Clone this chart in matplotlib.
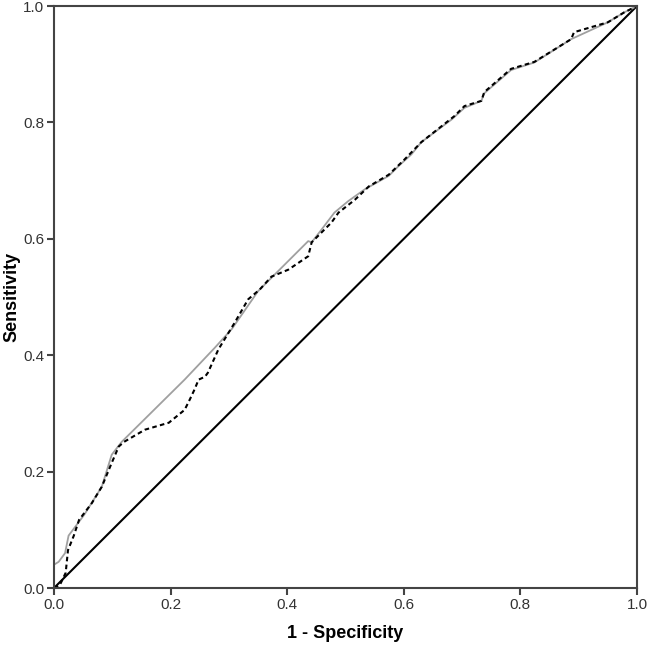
import matplotlib
matplotlib.use('Agg')
import matplotlib.pyplot as plt

plt.rcParams['font.family'] = ['Liberation Sans', 'DejaVu Sans']

# solid grey ROC curve
fpr_a = [0.0, 0.0, 0.008, 0.019, 0.025, 0.052, 0.082, 0.099, 0.116, 0.224,
         0.276, 0.305, 0.35, 0.436, 0.442, 0.459, 0.481, 0.505, 0.533, 0.574,
         0.591, 0.613, 0.63, 0.682, 0.704, 0.733, 0.738, 0.784, 0.824, 0.887,
         0.95, 0.978, 1.0]
tpr_a = [0.0, 0.04, 0.045, 0.06, 0.09, 0.126, 0.174, 0.229, 0.251, 0.358,
         0.413, 0.445, 0.51, 0.596, 0.594, 0.616, 0.645, 0.665, 0.685, 0.708,
         0.725, 0.745, 0.766, 0.805, 0.825, 0.837, 0.85, 0.89, 0.903, 0.943,
         0.972, 0.989, 1.0]

# dashed black ROC curve
fpr_b = [0.0, 0.01, 0.02, 0.024, 0.034, 0.043, 0.065, 0.082, 0.099, 0.111,
         0.12, 0.156, 0.197, 0.208, 0.224, 0.233, 0.241, 0.248, 0.259, 0.264,
         0.282, 0.31, 0.333, 0.353, 0.373, 0.402, 0.436, 0.442, 0.476, 0.488,
         0.516, 0.54, 0.574, 0.6, 0.63, 0.687, 0.704, 0.733, 0.738, 0.784,
         0.824, 0.887, 0.892, 0.95, 0.978, 1.0]
tpr_b = [0.0, 0.005, 0.026, 0.065, 0.09, 0.117, 0.146, 0.174, 0.215, 0.243,
         0.251, 0.272, 0.284, 0.293, 0.306, 0.324, 0.341, 0.358, 0.363, 0.37,
         0.41, 0.456, 0.496, 0.513, 0.535, 0.547, 0.57, 0.594, 0.628, 0.645,
         0.667, 0.69, 0.71, 0.735, 0.766, 0.811, 0.828, 0.837, 0.852, 0.892,
         0.904, 0.943, 0.955, 0.972, 0.989, 1.0]

ref = [0.0, 1.0]
ticks = [0.0, 0.2, 0.4, 0.6, 0.8, 1.0]

fig = plt.figure(figsize=(6.48, 6.5), dpi=100)
ax = fig.add_axes([54/648, 1 - 588/650, 583/648, 582/650])

ax.plot(ref, ref, '-', color='black', linewidth=1.5)
ax.plot(fpr_a, tpr_a, '-', color='#a0a0a0', linewidth=1.3)
ax.plot(fpr_b, tpr_b, color='black', linewidth=1.5, linestyle=(0, (2.2, 1.6)))

ax.set_xlim(0, 1)
ax.set_ylim(0, 1)
ax.set_xticks(ticks)
ax.set_yticks(ticks)
ax.set_xticklabels(['%.1f' % t for t in ticks])
ax.set_yticklabels(['%.1f' % t for t in ticks])
ax.tick_params(direction='out', length=5, width=1.5, color='#444444',
               labelsize=11, labelcolor='#333333', pad=2)
for s in ax.spines.values():
    s.set_color('#444444')
    s.set_linewidth(1.5)

ax.set_xlabel('1 - Specificity', fontsize=13, fontweight='bold')
ax.set_ylabel('Sensitivity', fontsize=13, fontweight='bold')
ax.xaxis.set_label_coords(0.5, -0.063)
ax.yaxis.set_label_coords(-0.058, 0.5)

fig.savefig('out.png', dpi=100)
